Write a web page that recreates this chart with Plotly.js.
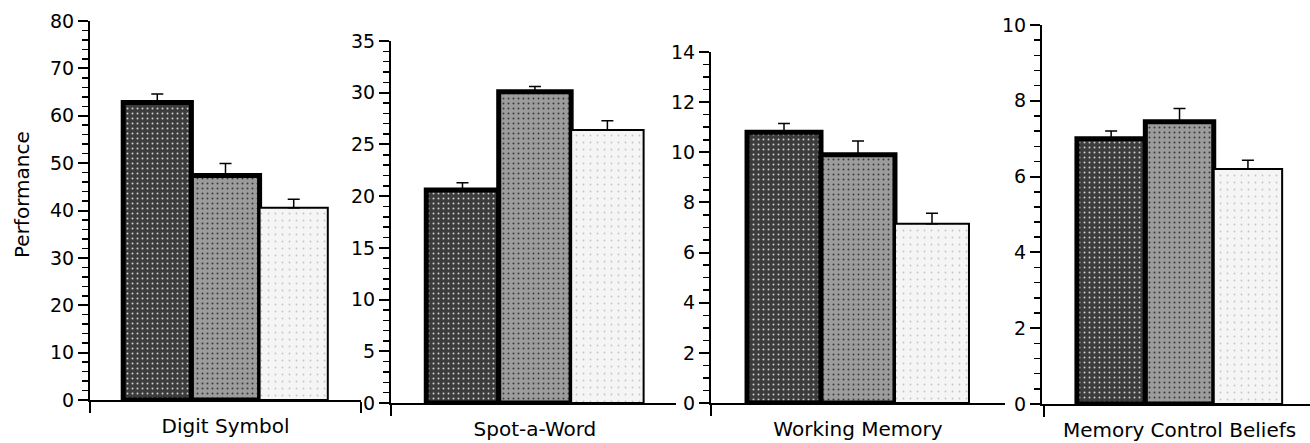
<!DOCTYPE html>
<html>
<head>
<meta charset="utf-8">
<script src="https://cdn.plot.ly/plotly-3.0.1.min.js"></script>
<style>
  html, body { margin: 0; padding: 0; background: #ffffff; }
  #chart { width: 1310px; height: 443px; }
</style>
</head>
<body>
<div id="chart"></div>
<script>
// ---- Data ----
const panels = ["Digit Symbol", "Spot-a-Word", "Working Memory", "Memory Control Beliefs"];
const seriesNames = ["Group 1", "Group 2", "Group 3"];
const group1 = [62.8, 20.6, 10.8, 7.0];
const group2 = [47.4, 30.1, 9.9, 7.45];
const group3 = [40.6, 26.4, 7.15, 6.2];
const group1Err = [1.8, 0.7, 0.35, 0.2];
const group2Err = [2.5, 0.5, 0.55, 0.35];
const group3Err = [1.8, 0.9, 0.42, 0.23];
const yMax = [80, 35, 14, 10];
const yMajor = [10, 5, 2, 2];
const yMinor = [2, 1, 0.5, 0.4];
const yTitle = "Performance";

// ---- Styles ----
const seriesStyle = [
  {bg: "#3c3c3c", fg: "#d0d0d0", line: "#000000", lw: 5, size: 5, sol: 0.12},
  {bg: "#9c9c9c", fg: "#3a3a3a", line: "#000000", lw: 5, size: 5, sol: 0.12},
  {bg: "#f5f5f5", fg: "#c4c4c4", line: "#000000", lw: 2, size: 7, sol: 0.05}
];
const xDom = [[90, 361], [391, 676], [711, 1005], [1042, 1310]];
const yPix = [[400, 21], [403, 41], [403, 52], [404, 25]]; // [zero, top]
const xRanges = [[-0.5, 0.5], [-0.5, 0.49], [-0.5, 0.5], [-0.506, 0.48]];
const W = 1310, H = 443;
const FONT = "DejaVu Sans, Arial, sans-serif";

const values = [group1, group2, group3];
const errs = [group1Err, group2Err, group3Err];

const traces = [];
const layout = {
  width: W, height: H,
  margin: {l: 0, r: 0, t: 0, b: 0},
  paper_bgcolor: "#ffffff",
  plot_bgcolor: "rgba(0,0,0,0)",
  showlegend: false,
  barmode: "group",
  bargap: 0.245,
  bargroupgap: 0,
  font: {family: FONT, size: 19, color: "#000"},
  annotations: [{
    text: yTitle, xref: "paper", yref: "paper",
    x: 22 / W, y: 1 - 195 / H, textangle: -90, showarrow: false,
    xanchor: "center", yanchor: "middle",
    font: {family: FONT, size: 20, color: "#000"}
  }]
};

panels.forEach((p, i) => {
  const n = i === 0 ? "" : String(i + 1);
  for (let s = 0; s < 3; s++) {
    const st = seriesStyle[s];
    traces.push({
      type: "bar",
      name: seriesNames[s],
      x: [p],
      y: [values[s][i]],
      xaxis: "x" + n, yaxis: "y" + n,
      marker: {
        color: st.bg,
        line: {color: st.line, width: st.lw},
        pattern: {shape: ".", bgcolor: st.bg, fgcolor: st.fg, size: st.size, solidity: st.sol}
      },
      error_y: {type: "data", symmetric: false, array: [errs[s][i]], arrayminus: [0],
                color: "#000", thickness: 1.5, width: 6},
      hoverinfo: "skip"
    });
  }
  const ya = yPix[i];
  layout["xaxis" + n] = {
    domain: [xDom[i][0] / W, xDom[i][1] / W],
    anchor: "y" + n,
    type: "category",
    range: xRanges[i],
    tickson: "boundaries",
    ticks: "outside", ticklen: 11, tickwidth: 2, tickcolor: "#000",
    ticklabelstandoff: 7,
    showline: true, linecolor: "#000", linewidth: 2,
    showgrid: false, zeroline: false,
    tickfont: {family: FONT, size: 20},
    fixedrange: true
  };
  layout["yaxis" + n] = {
    domain: [(H - ya[0]) / H, (H - ya[1]) / H],
    anchor: "x" + n,
    range: [0, yMax[i]],
    dtick: yMajor[i], tick0: 0,
    ticks: "outside", ticklen: 10, tickwidth: 2, tickcolor: "#000",
    minor: {dtick: yMinor[i], tick0: 0, ticks: "outside", ticklen: 6, tickwidth: 1.5, tickcolor: "#000", showgrid: false},
    showline: true, linecolor: "#000", linewidth: 2,
    showgrid: false, zeroline: false,
    tickfont: {family: FONT, size: 19},
    fixedrange: true
  };
});

Plotly.newPlot("chart", traces, layout, {displayModeBar: false, staticPlot: true});
</script>
</body>
</html>
